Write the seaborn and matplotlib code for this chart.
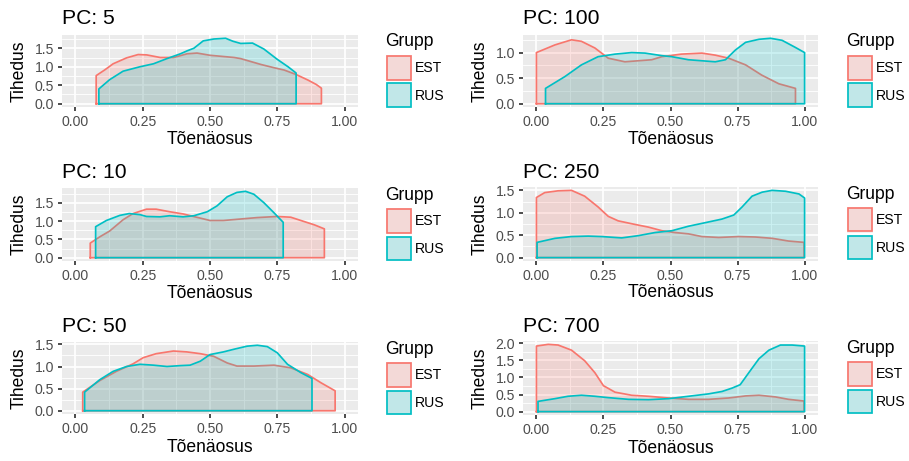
import numpy as np
import matplotlib
matplotlib.use("Agg")
import matplotlib.pyplot as plt
import seaborn as sns
from matplotlib.patches import Rectangle

# ---------------- data (density curves) ----------------
titles = ["PC: 5", "PC: 100", "PC: 10", "PC: 250", "PC: 50", "PC: 700"]
groups = ["EST", "RUS"]
x_ticks = [0.0, 0.25, 0.5, 0.75, 1.0]
x_tick_labels = ["0.00", "0.25", "0.50", "0.75", "1.00"]

pc5_est_x = [0.077, 0.11, 0.14, 0.19, 0.233, 0.265, 0.315, 0.365, 0.415, 0.452, 0.50, 0.59, 0.614, 0.69, 0.74, 0.776, 0.82, 0.864, 0.895, 0.914]
pc5_est_y = [0.76, 0.92, 1.08, 1.24, 1.33, 1.32, 1.25, 1.25, 1.35, 1.37, 1.31, 1.25, 1.22, 1.06, 0.97, 0.91, 0.79, 0.64, 0.52, 0.42]
pc5_rus_x = [0.087, 0.127, 0.177, 0.24, 0.29, 0.34, 0.39, 0.415, 0.44, 0.475, 0.514, 0.558, 0.585, 0.614, 0.658, 0.70, 0.75, 0.79, 0.82]
pc5_rus_y = [0.40, 0.65, 0.88, 1.00, 1.08, 1.22, 1.35, 1.43, 1.50, 1.70, 1.75, 1.77, 1.69, 1.63, 1.64, 1.48, 1.20, 1.00, 0.83]

pc100_est_x = [0.0, 0.069, 0.131, 0.168, 0.218, 0.268, 0.33, 0.38, 0.43, 0.468, 0.54, 0.617, 0.667, 0.717, 0.78, 0.84, 0.904, 0.966]
pc100_est_y = [1.0, 1.15, 1.25, 1.22, 1.09, 0.89, 0.82, 0.84, 0.86, 0.92, 0.97, 0.99, 0.95, 0.89, 0.76, 0.56, 0.39, 0.30]
pc100_rus_x = [0.034, 0.106, 0.168, 0.23, 0.293, 0.355, 0.405, 0.468, 0.505, 0.567, 0.617, 0.667, 0.705, 0.742, 0.78, 0.83, 0.873, 0.916, 0.966, 1.0]
pc100_rus_y = [0.30, 0.53, 0.76, 0.92, 0.97, 1.0, 0.99, 0.94, 0.92, 0.86, 0.84, 0.82, 0.86, 1.05, 1.20, 1.26, 1.28, 1.24, 1.10, 1.0]

pc10_est_x = [0.055, 0.09, 0.127, 0.177, 0.214, 0.264, 0.30, 0.35, 0.40, 0.45, 0.50, 0.55, 0.613, 0.676, 0.75, 0.80, 0.888, 0.925]
pc10_est_y = [0.40, 0.57, 0.73, 1.04, 1.21, 1.33, 1.33, 1.26, 1.20, 1.11, 1.02, 1.02, 1.06, 1.10, 1.13, 1.11, 0.90, 0.79]
pc10_rus_x = [0.075, 0.115, 0.165, 0.20, 0.24, 0.264, 0.314, 0.35, 0.40, 0.44, 0.49, 0.526, 0.564, 0.60, 0.632, 0.663, 0.70, 0.738, 0.772]
pc10_rus_y = [0.85, 1.02, 1.16, 1.21, 1.18, 1.13, 1.12, 1.15, 1.12, 1.15, 1.26, 1.42, 1.67, 1.79, 1.82, 1.74, 1.51, 1.23, 0.97]

pc250_est_x = [0.0, 0.031, 0.081, 0.131, 0.18, 0.23, 0.268, 0.305, 0.368, 0.418, 0.468, 0.517, 0.567, 0.617, 0.68, 0.755, 0.817, 0.88, 0.94, 0.998]
pc250_est_y = [1.34, 1.45, 1.49, 1.50, 1.37, 1.13, 0.92, 0.82, 0.74, 0.68, 0.60, 0.56, 0.53, 0.47, 0.45, 0.47, 0.46, 0.43, 0.37, 0.34]
pc250_rus_x = [0.0025, 0.069, 0.131, 0.193, 0.243, 0.318, 0.38, 0.443, 0.505, 0.567, 0.63, 0.692, 0.736, 0.767, 0.804, 0.842, 0.879, 0.929, 0.979, 1.0]
pc250_rus_y = [0.34, 0.43, 0.47, 0.48, 0.47, 0.44, 0.49, 0.56, 0.60, 0.70, 0.78, 0.86, 0.95, 1.13, 1.37, 1.46, 1.50, 1.48, 1.42, 1.33]

pc50_est_x = [0.027, 0.09, 0.152, 0.214, 0.252, 0.30, 0.364, 0.414, 0.464, 0.514, 0.564, 0.60, 0.663, 0.738, 0.80, 0.863, 0.913, 0.965]
pc50_est_y = [0.42, 0.68, 0.89, 1.06, 1.20, 1.29, 1.35, 1.33, 1.29, 1.23, 1.08, 1.01, 1.01, 1.03, 0.97, 0.82, 0.63, 0.45]
pc50_rus_x = [0.034, 0.09, 0.14, 0.19, 0.24, 0.29, 0.34, 0.39, 0.426, 0.464, 0.50, 0.55, 0.589, 0.638, 0.676, 0.713, 0.75, 0.788, 0.838, 0.879]
pc50_rus_y = [0.42, 0.70, 0.89, 1.00, 1.05, 1.03, 1.00, 1.02, 1.03, 1.12, 1.27, 1.33, 1.39, 1.46, 1.48, 1.45, 1.31, 1.05, 0.86, 0.73]

pc700_est_x = [0.0, 0.044, 0.081, 0.131, 0.18, 0.218, 0.25, 0.293, 0.355, 0.418, 0.493, 0.567, 0.642, 0.717, 0.78, 0.83, 0.892, 0.94, 0.998]
pc700_est_y = [1.92, 1.97, 1.95, 1.80, 1.49, 1.14, 0.76, 0.57, 0.48, 0.45, 0.40, 0.36, 0.36, 0.40, 0.46, 0.48, 0.43, 0.36, 0.31]
pc700_rus_x = [0.006, 0.069, 0.118, 0.168, 0.218, 0.268, 0.343, 0.418, 0.493, 0.567, 0.642, 0.692, 0.73, 0.76, 0.792, 0.83, 0.867, 0.91, 0.954, 1.0]
pc700_rus_y = [0.30, 0.38, 0.45, 0.48, 0.45, 0.41, 0.36, 0.35, 0.38, 0.45, 0.52, 0.59, 0.69, 0.79, 1.14, 1.55, 1.80, 1.95, 1.95, 1.92]

y_ticks_5 = [0.0, 0.5, 1.0, 1.5]
y_ticks_100 = [0.0, 0.5, 1.0]
y_ticks_700 = [0.0, 0.5, 1.0, 1.5, 2.0]

# ---------------- styling ----------------
W, H = 909, 461
EST_COL = "#F8766D"
RUS_COL = "#00BFC4"
FONT = ["Liberation Sans", "DejaVu Sans"]
plt.rcParams["font.family"] = FONT
SC = 1.15
TITLE_FS = 13.2 * SC
LAB_FS = 11 * SC
TICK_FS = 8.8 * SC
LW = 1.07 * SC

fig = plt.figure(figsize=(W / 100, H / 100), dpi=100)
fig.patch.set_facecolor("white")


def fx(x):
    return x / W


def fy(y):
    return 1 - y / H


# panel boxes in pixel coordinates: (left, right, top, bottom)
boxes = [
    (62, 358, 35, 107), (523, 818, 35, 107),
    (62, 358, 188, 261), (523, 818, 187, 261),
    (62, 358, 342, 414), (523, 818, 341, 415),
]
curves = [
    (pc5_est_x, pc5_est_y, pc5_rus_x, pc5_rus_y, y_ticks_5),
    (pc100_est_x, pc100_est_y, pc100_rus_x, pc100_rus_y, y_ticks_100),
    (pc10_est_x, pc10_est_y, pc10_rus_x, pc10_rus_y, y_ticks_5),
    (pc250_est_x, pc250_est_y, pc250_rus_x, pc250_rus_y, y_ticks_5),
    (pc50_est_x, pc50_est_y, pc50_rus_x, pc50_rus_y, y_ticks_5),
    (pc700_est_x, pc700_est_y, pc700_rus_x, pc700_rus_y, y_ticks_700),
]

for i, ((l, r, t, b), (ex, ey, rx, ry, yt)) in enumerate(zip(boxes, curves)):
    ax = fig.add_axes([fx(l), fy(b), (r - l) / W, (b - t) / H])
    ax.set_facecolor("#EBEBEB")
    for s in ax.spines.values():
        s.set_visible(False)

    ymax = max(max(ey), max(ry))
    ax.set_xlim(-0.05, 1.05)
    ax.set_ylim(-0.05 * ymax, 1.05 * ymax)
    ax.set_xticks(x_ticks)
    ax.set_xticklabels(x_tick_labels)
    ax.set_yticks(yt)
    ax.set_yticklabels([f"{v:.1f}" for v in yt])
    ax.set_xticks([0.125, 0.375, 0.625, 0.875], minor=True)
    ym = [v + 0.25 for v in yt if v + 0.25 < 1.05 * ymax]
    ax.set_yticks(ym, minor=True)
    ax.grid(which="major", color="white", lw=LW)
    ax.grid(which="minor", color="white", lw=LW / 2)
    ax.set_axisbelow(True)
    ax.tick_params(which="major", length=2.75 * SC, width=LW, color="#333333",
                   labelsize=TICK_FS, labelcolor="#4D4D4D", pad=2.2 * SC)
    ax.tick_params(which="minor", length=0)

    z = 2
    for xs, ys, col in [(ex, ey, EST_COL), (rx, ry, RUS_COL)]:
        xs = np.asarray(xs, float)
        ys = np.asarray(ys, float)
        ax.fill_between(xs, ys, 0, color=col, alpha=0.2, lw=0, zorder=z)
        px = np.r_[xs[0], xs, xs[-1], xs[0]]
        py = np.r_[0.0, ys, 0.0, 0.0]
        sns.lineplot(x=px, y=py, sort=False, estimator=None, ax=ax,
                     color=col, lw=LW, zorder=z + 1)
        z += 2

    ax.set_xlabel("Tõenäosus", fontsize=LAB_FS, color="black")
    ax.set_ylabel("Tihedus", fontsize=LAB_FS, color="black")
    hgt = b - t
    wid = r - l
    lab_y = {0: 140, 1: 140, 2: 293, 3: 292, 4: 447, 5: 448}[i]
    ax.xaxis.set_label_coords(0.5, -(lab_y - b) / hgt)
    ax.xaxis.label.set_va("center")
    lab_x = 19 if i % 2 == 0 else 480
    ax.yaxis.set_label_coords((lab_x - l) / wid, 0.5)
    ax.yaxis.label.set_va("center")

    title_y = {0: 18, 1: 18, 2: 173, 3: 172, 4: 327, 5: 327}[i]
    fig.text(fx(l), fy(title_y), titles[i], fontsize=TITLE_FS, ha="left", va="center")

    # legend
    lx = r + 28 if i % 2 == 0 else r + 29
    fig.text(fx(lx - 1), fy(t + 7), "Grupp", fontsize=LAB_FS, ha="left", va="center")
    for k, (g, col) in enumerate(zip(groups, [EST_COL, RUS_COL])):
        ky0 = t + 20 + k * 27.5
        fig.add_artist(Rectangle((fx(lx), fy(ky0 + 25.5)), 26 / W, 25.5 / H,
                                 transform=fig.transFigure, facecolor="#F2F2F2",
                                 edgecolor="none"))
        fig.add_artist(Rectangle((fx(lx + 1), fy(ky0 + 24.5)), 24 / W, 23.5 / H,
                                 transform=fig.transFigure, facecolor=col,
                                 alpha=0.2, edgecolor="none"))
        fig.add_artist(Rectangle((fx(lx + 1), fy(ky0 + 24.5)), 24 / W, 23.5 / H,
                                 transform=fig.transFigure, facecolor="none",
                                 edgecolor=col, lw=LW))
        fig.text(fx(lx + 29), fy(ky0 + 13), g, fontsize=TICK_FS, ha="left", va="center")

fig.savefig("out.png", dpi=100, facecolor="white")
